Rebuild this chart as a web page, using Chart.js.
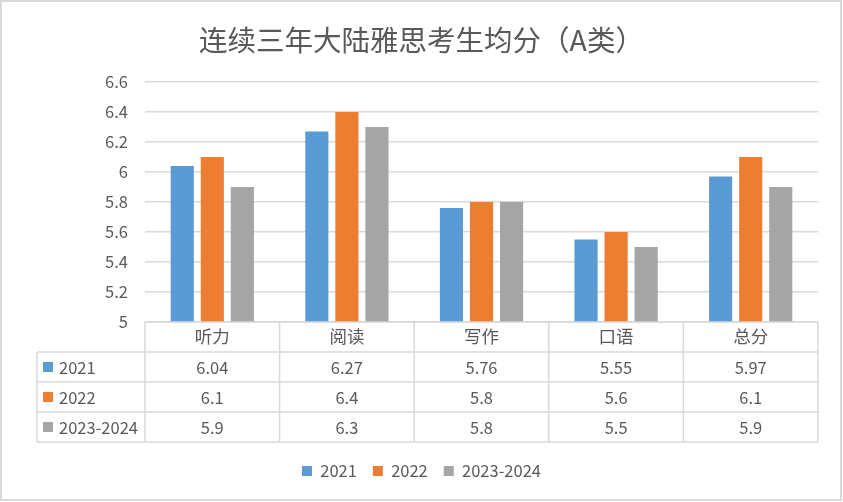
<!DOCTYPE html>
<html>
<head>
<meta charset="utf-8">
<script src="https://cdn.jsdelivr.net/npm/chart.js@4"></script>
<style>
  html, body { margin: 0; padding: 0; background: #fff; }
  #wrap { width: 843px; height: 502px; }
</style>
</head>
<body>
<div id="wrap"><canvas id="chart"></canvas></div>
<script>
const categories = ['听力', '阅读', '写作', '口语', '总分'];
const seriesNames = ['2021', '2022', '2023-2024'];
const scores2021 = [6.04, 6.27, 5.76, 5.55, 5.97];
const scores2022 = [6.1, 6.4, 5.8, 5.6, 6.1];
const scores2023 = [5.9, 6.3, 5.8, 5.5, 5.9];
const seriesColors = ['#5B9BD5', '#ED7D31', '#A5A5A5'];
const yMin = 5, yMax = 6.6, yStep = 0.2;

const textColor = '#595959';
const lineColor = '#D9D9D9';
const fontFamily = '"Noto Sans CJK SC", "Liberation Sans", sans-serif';

// data table under the plot + outer frame
const dataTable = {
    id: 'dataTable',
    afterDraw(chart) {
        const {ctx, chartArea} = chart;
        const x = chart.scales.x;
        const rowH = 30, top = chartArea.bottom, left = 37;
        const colW = (x.right - x.left) / categories.length;
        const nRows = chart.data.datasets.length;
        ctx.save();
        ctx.strokeStyle = lineColor;
        ctx.lineWidth = 1.5;
        ctx.beginPath();
        ctx.moveTo(x.left, top);
        ctx.lineTo(x.right, top);
        for (let r = 1; r <= nRows + 1; r++) {
            ctx.moveTo(left, top + r * rowH);
            ctx.lineTo(x.right, top + r * rowH);
        }
        for (let c = 0; c <= categories.length; c++) {
            const xx = x.left + c * colW;
            ctx.moveTo(xx, top);
            ctx.lineTo(xx, top + (nRows + 1) * rowH);
        }
        ctx.moveTo(left, top + rowH);
        ctx.lineTo(left, top + (nRows + 1) * rowH);
        ctx.stroke();

        ctx.font = '16.5px ' + fontFamily;
        ctx.textBaseline = 'middle';
        chart.data.datasets.forEach((ds, i) => {
            const y = top + rowH * (i + 1) + rowH / 2;
            ctx.fillStyle = ds.backgroundColor;
            ctx.fillRect(43, y - 5, 10, 10);
            ctx.fillStyle = textColor;
            ctx.textAlign = 'left';
            ctx.fillText(ds.label, 59, y + 1);
            ctx.textAlign = 'center';
            ds.data.forEach((v, j) => {
                ctx.fillText(String(v), x.getPixelForValue(j), y + 1);
            });
        });

        // outer frame
        ctx.lineWidth = 2;
        ctx.strokeRect(1, 1, 840, 499);
        ctx.restore();
    }
};

new Chart(document.getElementById('chart'), {
    type: 'bar',
    data: {
        labels: categories,
        datasets: [scores2021, scores2022, scores2023].map((d, i) => ({
            label: seriesNames[i],
            data: d,
            backgroundColor: seriesColors[i],
            categoryPercentage: 0.67,
            barPercentage: 0.77
        }))
    },
    options: {
        responsive: true,
        maintainAspectRatio: false,
        animation: false,
        layout: {padding: {left: 25, right: 25, top: 10, bottom: 12.75}},
        font: {family: fontFamily},
        plugins: {
            title: {
                display: true,
                text: '连续三年大陆雅思考生均分（A类）',
                color: textColor,
                font: {family: fontFamily, size: 28.5, weight: 'normal'},
                padding: {top: 12.9, bottom: 24.9}
            },
            legend: {
                position: 'bottom',
                labels: {
                    boxWidth: 10,
                    boxHeight: 10,
                    padding: 16,
                    color: textColor,
                    font: {family: fontFamily, size: 16.5}
                }
            },
            tooltip: {enabled: false}
        },
        scales: {
            x: {
                grid: {display: false, drawTicks: false},
                border: {display: false},
                ticks: {color: textColor, padding: 4, font: {family: fontFamily, size: 17.5}},
                afterFit(scale) { scale.height = 124.75; }
            },
            y: {
                min: yMin,
                max: yMax,
                grid: {color: lineColor, lineWidth: 1.5, drawTicks: false},
                border: {display: false},
                ticks: {
                    stepSize: yStep,
                    color: textColor,
                    padding: 17,
                    font: {family: fontFamily, size: 16.5},
                    callback: v => String(Math.round(v * 10) / 10)
                },
                afterFit(scale) { scale.width = 120; }
            }
        }
    },
    plugins: [dataTable]
});
</script>
</body>
</html>
